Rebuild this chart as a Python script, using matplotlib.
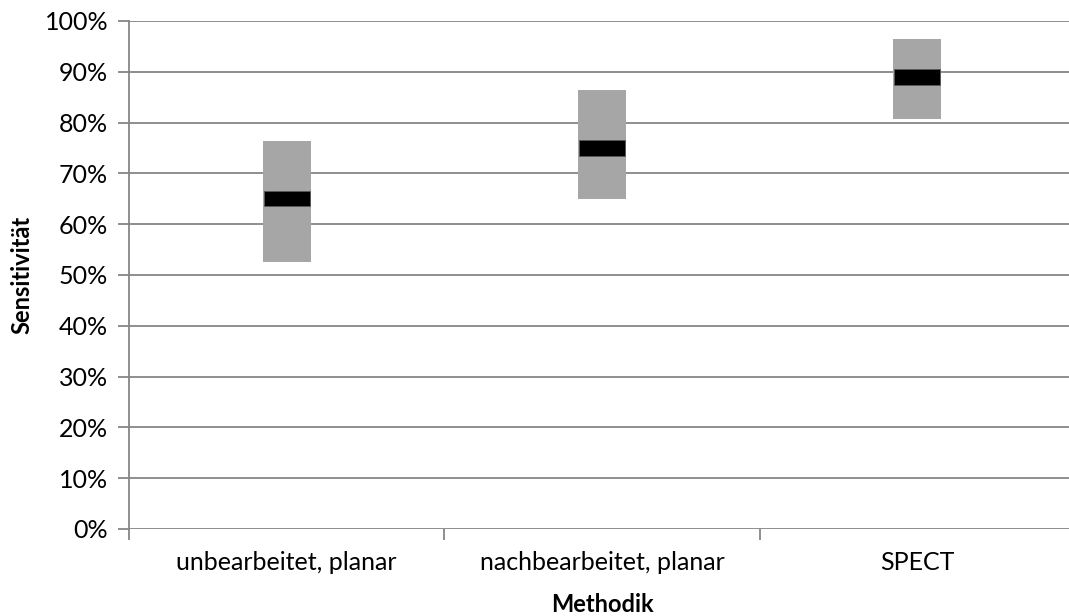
import matplotlib
matplotlib.use("Agg")
import matplotlib.pyplot as plt
from matplotlib.ticker import FixedLocator, NullFormatter, PercentFormatter

categories = ["unbearbeitet, planar", "nachbearbeitet, planar", "SPECT"]
lower = [52.5, 65.0, 80.7]
upper = [76.3, 86.4, 96.5]
median = [65.0, 75.0, 89.0]

plt.rcParams['font.family'] = ['Lato', 'DejaVu Sans']

W, H = 1069, 616
fig = plt.figure(figsize=(W / 100, H / 100), dpi=100)
left, right, top, bottom = 129, 1075, 21, 529
ax = fig.add_axes([left / W, 1 - bottom / H, (right - left) / W, (bottom - top) / H])

grid_c = "#868686"
x = list(range(len(categories)))
heights = [u - l for u, l in zip(upper, lower)]
ax.bar(x, heights, bottom=lower, width=0.152, color="#a6a6a6", zorder=3)
mark_h = 3.0
ax.bar(x, [mark_h] * 3, bottom=[m - mark_h / 2 for m in median], width=0.145,
       color="black", edgecolor="#5a5a5a", linewidth=0.6, zorder=4)

ax.set_xlim(-0.5, len(categories) - 0.5)
ax.set_ylim(0, 100)
ax.set_yticks(range(0, 101, 10))
ax.yaxis.set_major_formatter(PercentFormatter(decimals=0))
ax.yaxis.grid(True, color=grid_c, linewidth=1.3, zorder=0)
ax.set_axisbelow(True)

ax.xaxis.set_major_locator(FixedLocator([-0.5, 0.5, 1.5, 2.5]))
ax.xaxis.set_major_formatter(NullFormatter())
ax.xaxis.set_minor_locator(FixedLocator(x))
ax.set_xticklabels(categories, minor=True)
ax.tick_params(axis="x", which="major", length=8, color=grid_c, width=1.3, direction="out")
ax.tick_params(axis="x", which="minor", length=0, pad=16, labelsize=18)
ax.tick_params(axis="y", length=8, color=grid_c, width=1.3, pad=7, labelsize=18)

for s in ["top", "right", "bottom"]:
    ax.spines[s].set_visible(False)
ax.spines["left"].set_color(grid_c)
ax.spines["left"].set_linewidth(1.3)

fig.text(602 / W, 1 - 612 / H, "Methodik", fontsize=17, fontweight="bold",
         ha="center", va="baseline")
fig.text(22 / W, 1 - 275 / H, "Sensitivität", fontsize=17, fontweight="bold",
         ha="center", va="center", rotation=90)

fig.savefig("out.png", dpi=100)
